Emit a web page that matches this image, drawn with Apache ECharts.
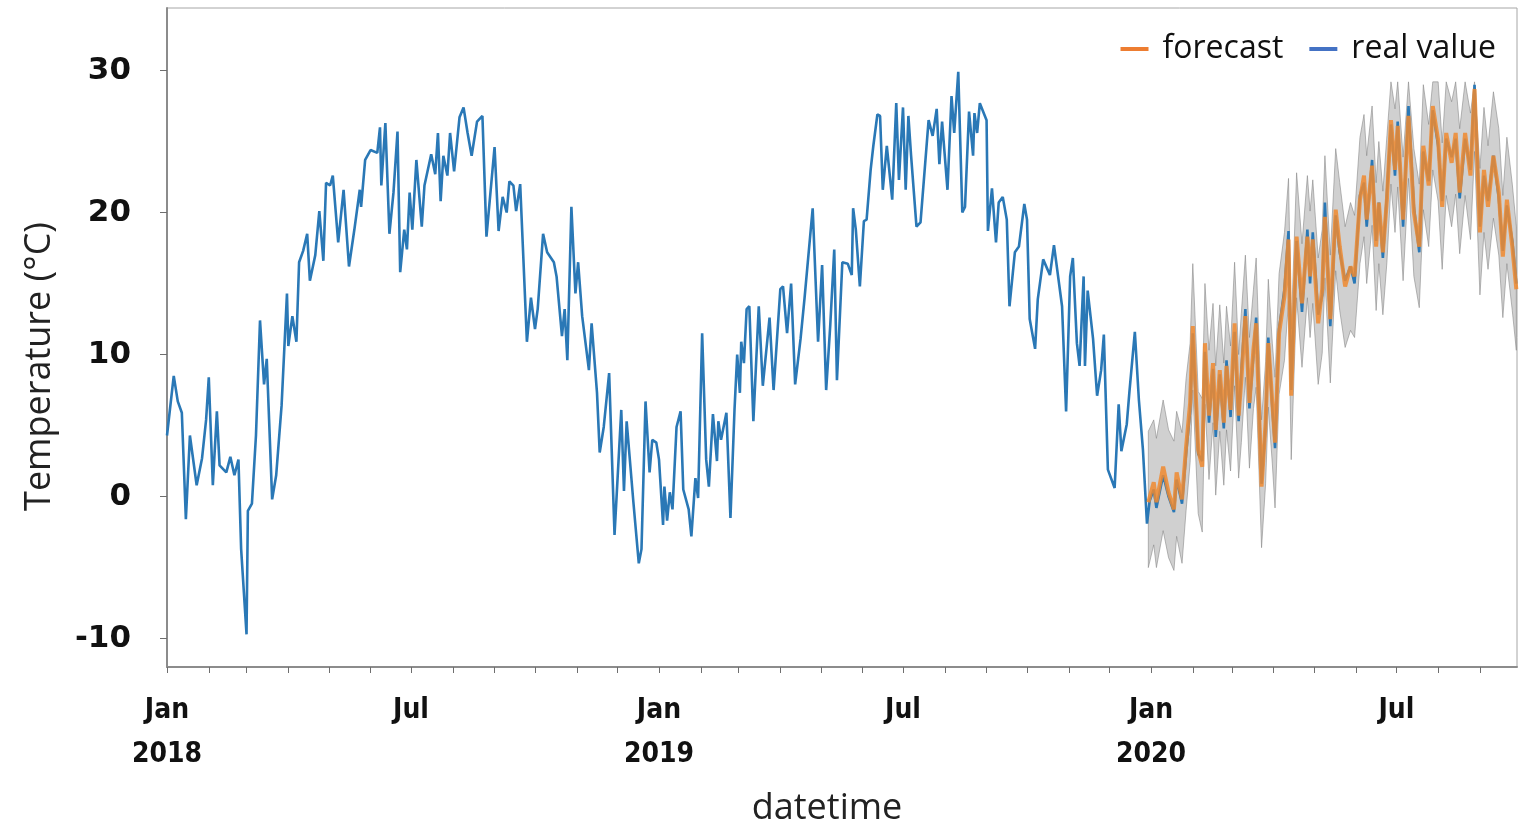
<!DOCTYPE html>
<html>
<head>
<meta charset="utf-8">
<title>Temperature forecast</title>
<script src="https://cdn.jsdelivr.net/npm/echarts@6/dist/echarts.min.js"></script>
<style>
  html, body { margin: 0; padding: 0; background: #fff; }
  #chart { width: 1519px; height: 824px; }
</style>
</head>
<body>
<div id="chart"></div>
<script>
// Daily temperature, days counted from 1 Jan 2018
const realDays = [
  0,5,8,11,14,17,22,26,29,31,
  34,37,39,44,47,50,53,55,59,60,
  63,66,69,72,74,78,81,85,89,90,
  93,96,98,101,104,106,110,113,116,118,
  121,123,127,131,135,139,143,144,147,151,
  156,158,159,162,165,168,171,173,176,178,
  180,182,185,189,191,196,199,201,203,205,
  208,210,213,217,220,223,226,230,234,237,
  243,246,249,252,254,257,259,262,264,267,
  270,273,275,279,282,287,289,293,295,297,
  300,303,305,308,313,315,319,321,324,328,
  332,337,339,341,346,350,352,355,358,360,
  363,365,368,369,371,373,375,378,381,383,
  387,389,392,394,397,400,402,405,408,409,
  411,415,418,421,423,425,426,428,430,432,
  435,439,442,447,450,455,457,460,463,466,
  470,473,475,479,483,486,489,492,495,497,
  501,505,508,509,511,514,517,519,522,524,
  527,529,531,534,538,541,543,546,548,550,
  552,556,559,565,568,571,573,575,579,582,
  584,587,590,592,595,598,599,601,603,608,
  609,612,615,617,620,623,625,629,632,636,
  638,640,644,646,650,655,658,664,667,670,
  672,675,677,680,681,683,687,690,693,695,
  698,703,706,708,712,714,718,721,724,727,
  729,732,734,739,743,747,749,753,756,759,
  761,765,768,770,773,776,778,781,784,786,
  789,792,795,797,800,803,806,808,812,815,
  817,820,822,825,829,832,834,838,842,846,
  848,850,854,857,859,863,867,870,874,878,
  881,885,888,890,894,897,899,902,905,908,
  911,913,917,921,925,929,932,936,939,943,
  946,949,953,956,959,963,967,970,974,977,
  980,984,988,991,994,998,1001
];
const realTemps = [
  4.3,8.5,6.7,5.9,-1.6,4.3,0.8,2.7,5.4,8.4,
  0.8,6.0,2.2,1.7,2.8,1.5,2.6,-3.7,-9.7,-1.0,
  -0.5,4.3,12.4,7.9,9.7,-0.2,1.5,6.4,14.3,10.6,
  12.7,10.9,16.5,17.3,18.5,15.2,17.0,20.1,16.6,22.1,
  21.9,22.6,17.9,21.6,16.2,18.8,21.6,20.4,23.7,24.4,
  24.2,26.0,21.9,26.3,18.5,21.4,25.7,15.8,18.8,17.4,
  21.4,18.8,23.7,19.0,21.9,24.1,22.7,25.6,20.8,24.0,
  22.6,25.6,22.9,26.7,27.4,25.6,24.0,26.4,26.8,18.3,
  24.6,18.7,21.1,20.0,22.2,21.9,20.1,22.0,17.6,10.9,
  14.0,11.8,13.2,18.5,17.2,16.5,15.5,11.3,13.2,9.6,
  20.4,14.3,16.5,12.7,8.9,12.2,7.3,3.1,4.9,8.7,
  -2.7,6.1,0.4,5.3,-0.4,-4.7,-3.7,6.7,1.7,4.0,
  3.8,2.6,-2.0,0.7,-1.7,0.3,-0.9,4.9,6.0,0.5,
  -0.9,-2.8,1.3,-0.1,11.5,2.6,0.7,5.8,2.5,5.3,
  4.0,5.9,-1.5,6.1,10.0,7.3,10.9,9.4,13.2,13.4,
  5.3,13.4,7.8,12.6,7.5,14.6,14.8,11.5,15.0,7.9,
  11.1,14.0,16.1,20.3,10.9,16.3,7.5,12.0,17.4,8.2,
  16.5,16.4,15.6,20.3,18.8,14.8,19.4,19.5,23.0,24.7,
  26.9,26.8,21.6,24.7,20.9,27.7,22.3,27.4,21.6,26.8,
  24.0,19.0,19.3,26.5,25.4,27.3,23.4,26.4,21.6,28.2,
  25.6,29.9,20.0,20.4,27.1,24.0,27.0,25.6,27.7,26.5,
  18.7,21.7,17.9,20.7,21.1,19.5,13.4,17.2,17.6,20.6,
  19.5,12.5,10.4,13.9,16.7,15.6,17.7,13.4,6.0,15.5,
  16.8,10.8,9.2,15.5,9.2,14.5,11.1,7.1,8.9,11.4,
  1.9,0.6,6.5,3.2,5.1,7.4,11.6,6.8,3.3,-1.9,
  -0.3,0.5,-0.8,1.5,0.0,-1.1,1.2,-0.5,3.0,6.0,
  11.5,3.0,2.5,10.2,5.2,9.0,4.2,8.6,4.8,9.6,
  5.6,11.6,5.3,8.8,13.2,6.2,10.0,12.6,0.9,5.0,
  11.2,6.2,3.4,11.8,14.6,18.7,7.5,18.0,13.0,18.8,
  15.0,18.6,12.8,14.2,20.7,12.0,19.8,17.2,15.2,16.2,
  15.0,21.2,22.1,19.0,23.7,18.0,20.7,16.8,21.3,26.2,
  22.6,26.4,19.0,27.5,20.4,17.2,24.3,22.2,27.2,24.7,
  20.8,25.2,23.9,25.2,21.0,25.2,23.0,29.0,19.0,22.6,
  20.8,24.0,21.0,17.3,20.5,18.0,15.0
];

// Forecast from Jan 2020 with its uncertainty band
const fcDays = [
  728,732,734,739,743,747,749,753,756,759,
  761,765,768,770,773,776,778,781,784,786,
  789,792,795,797,800,803,806,808,812,815,
  817,820,822,825,829,832,834,838,842,846,
  848,850,854,857,859,863,867,870,874,878,
  881,885,888,890,894,897,899,902,905,908,
  911,913,917,921,925,929,932,936,939,943,
  946,949,953,956,959,963,967,970,974,977,
  980,984,988,991,994,998,1001
];
const fcTemps = [
  -0.4,1.0,-0.4,2.1,0.3,-0.9,1.7,-0.2,3.5,6.6,
  12.0,3.3,2.1,10.8,5.7,9.4,4.7,8.9,5.2,9.2,
  6.1,12.2,5.7,8.2,12.7,6.6,10.4,12.2,0.7,5.2,
  10.8,6.6,3.8,11.5,14.1,18.1,7.1,18.3,13.6,18.3,
  15.5,18.1,12.2,14.6,19.7,12.5,20.2,17.6,14.8,16.2,
  15.5,20.9,22.6,19.5,23.3,17.6,20.7,17.2,20.9,26.5,
  23.0,26.1,19.5,26.8,20.0,17.6,24.7,21.9,27.5,25.1,
  20.4,25.6,23.5,25.6,21.4,25.6,22.6,28.7,18.6,23.0,
  20.4,24.0,21.4,16.9,20.9,17.6,14.6
];
const fcUpper = [
  4.6,5.4,4.1,6.8,4.7,3.9,6.0,4.5,8.3,10.8,
  16.4,7.4,6.9,15.0,10.3,13.6,9.2,13.5,9.4,13.4,
  10.6,16.5,10.0,12.9,17.0,11.2,14.6,16.8,5.4,9.5,
  15.3,10.8,8.4,15.7,18.6,22.4,11.8,22.8,17.8,22.6,
  20.1,22.3,16.8,18.8,24.0,17.0,24.5,22.1,19.0,20.7,
  19.8,25.3,26.9,24.0,27.5,22.1,25.0,21.5,25.4,29.2,
  27.3,29.2,23.9,29.2,24.5,22.0,29.0,26.2,29.2,29.2,
  24.9,29.2,27.8,29.2,25.9,29.2,27.0,29.2,23.1,27.4,
  24.7,28.5,25.9,21.2,25.3,22.0,19.0
];
const fcLower = [
  -5.0,-3.4,-5.0,-2.4,-4.3,-5.2,-2.8,-4.7,-1.0,2.4,
  7.5,-1.2,-2.5,6.5,1.2,5.2,0.1,4.6,0.8,4.7,
  1.8,7.8,1.3,3.8,8.4,2.0,6.2,7.7,-3.6,0.9,
  6.3,2.3,-0.8,7.2,9.6,13.8,2.6,14.0,9.1,14.0,
  11.2,13.6,7.9,10.1,15.4,8.0,15.9,13.1,10.5,11.7,
  11.2,16.4,18.3,15.0,19.1,13.1,16.4,12.8,16.5,22.0,
  18.6,21.8,15.2,22.4,15.5,13.3,20.2,17.6,23.0,20.8,
  16.0,21.2,19.0,21.3,17.1,21.2,18.1,24.3,14.2,18.6,
  16.0,19.6,17.0,12.6,16.4,13.1,10.3
];

// Axis ticks and labels
const yTicks = [-10, 0, 10, 20, 30];
const xLabelMonths = [[2018,0],[2018,6],[2019,0],[2019,6],[2020,0],[2020,6]];
const X_MAX_DAY = 1001.5;

const DAY = 86400000;
const START = Date.UTC(2018, 0, 1);
const dayOf = (y, m) => (Date.UTC(y, m, 1) - START) / DAY;

// month starts for the small ticks along the date axis
const monthTicks = [];
for (let y = 2018; y <= 2020; y++) {
  for (let m = 0; m < 12; m++) {
    const d = dayOf(y, m);
    if (d <= X_MAX_DAY) monthTicks.push(d);
  }
}
const labelTicks = xLabelMonths.map(([y, m]) => dayOf(y, m));

const realData = realDays.map((d, i) => [d, realTemps[i]]);
const fcData = fcDays.map((d, i) => [d, fcTemps[i]]);
const bandData = fcDays.map((d, i) => [d, fcLower[i], fcUpper[i]]);

// uncertainty band: one polygon running along the upper bound and back along the lower bound
function renderBand(params, api) {
  if (params.dataIndex !== 0) return { type: 'group', children: [] };
  const upper = [], lower = [];
  for (let i = 0; i < bandData.length; i++) {
    upper.push(api.coord([bandData[i][0], bandData[i][2]]));
    lower.push(api.coord([bandData[i][0], bandData[i][1]]));
  }
  return {
    type: 'polygon',
    shape: { points: upper.concat(lower.reverse()) },
    style: { fill: 'rgba(150,150,150,0.45)', stroke: 'rgba(130,130,130,0.55)', lineWidth: 1 }
  };
}

const chart = echarts.init(document.getElementById('chart'), null, { renderer: 'canvas' });
chart.setOption({
  animation: false,
  backgroundColor: '#ffffff',
  grid: {
    left: 167, top: 8, right: 2, bottom: 157,
    outerBoundsMode: 'none',
    show: true, borderColor: '#a6a6a6', borderWidth: 1
  },
  legend: {
    right: 18, top: 28,
    icon: 'rect', itemWidth: 28, itemHeight: 4, itemGap: 26,
    textStyle: { fontFamily: 'Open Sans', fontSize: 32, color: '#111', padding: [0, 0, 0, 9] },
    data: [
      { name: 'forecast', itemStyle: { color: '#ed7d31' } },
      { name: 'real value', itemStyle: { color: '#4472c4' } }
    ]
  },
  xAxis: {
    type: 'value',
    min: 0, max: X_MAX_DAY,
    name: 'datetime', nameLocation: 'middle', nameGap: 122,
    nameTextStyle: { fontFamily: 'Open Sans', fontSize: 36, color: '#222', lineHeight: 40, padding: [0, 30, 0, 0] },
    axisLine: { onZero: false, lineStyle: { color: '#8c8c8c', width: 2 } },
    axisTick: { show: true, customValues: monthTicks, length: 6, lineStyle: { color: '#6e6e6e' } },
    axisLabel: {
      customValues: labelTicks,
      margin: 22,
      fontFamily: 'Liberation Sans Narrow, DejaVu Sans Condensed, sans-serif',
      fontWeight: 'bold', fontSize: 28, lineHeight: 44, color: '#111',
      formatter: v => {
        const d = new Date(START + v * DAY);
        return d.getUTCMonth() === 0 ? 'Jan\n' + d.getUTCFullYear() : 'Jul';
      }
    },
    splitLine: { show: false }
  },
  yAxis: {
    type: 'value', min: -12, max: 34.4,
    name: 'Temperature (°C)', nameLocation: 'middle', nameGap: 109,
    nameTextStyle: { fontFamily: 'Open Sans', fontSize: 36, color: '#222', padding: [0, 58, 0, 0] },
    axisLine: { show: true, onZero: false, lineStyle: { color: '#8c8c8c', width: 2 } },
    axisTick: { show: true, customValues: yTicks, length: 7, lineStyle: { color: '#6e6e6e' } },
    axisLabel: {
      customValues: yTicks, margin: 36,
      fontFamily: 'DejaVu Sans', fontWeight: 'bold', fontSize: 31, color: '#111'
    },
    splitLine: { show: false }
  },
  series: [
    {
      name: 'band', type: 'custom', data: bandData,
      encode: { x: 0, y: [1, 2] },
      renderItem: renderBand, silent: true, z: 1
    },
    {
      name: 'real value', type: 'line', data: realData,
      symbol: 'none', color: '#2a78b6',
      lineStyle: { color: '#2a78b6', width: 2.6 }, z: 2
    },
    {
      name: 'forecast', type: 'line', data: fcData,
      symbol: 'none', color: '#f0892f',
      lineStyle: { color: '#f0892f', width: 4, opacity: 0.85 }, z: 3
    }
  ]
});
</script>
</body>
</html>
